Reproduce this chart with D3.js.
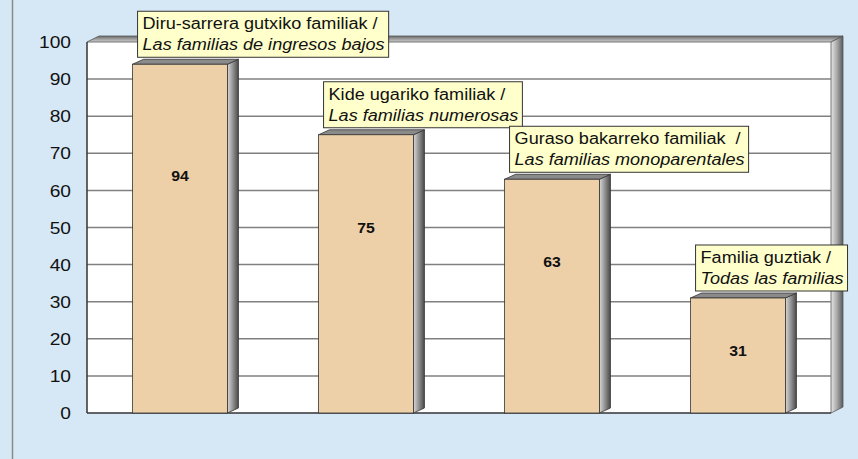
<!DOCTYPE html>
<html>
<head>
<meta charset="utf-8">
<script src="https://cdn.jsdelivr.net/npm/d3@7"></script>
<style>
  body { margin: 0; background: #d6e8f6; }
  svg { display: block; font-family: "Liberation Sans", Arial, sans-serif; }
  text { white-space: pre; }
</style>
</head>
<body>
<svg id="chart" width="858" height="459"></svg>
<script>
// chart data
const categories = ['diru', 'kide', 'guraso', 'guztiak'];
const values = [94, 75, 63, 31];
const labelsEu = ['Diru-sarrera gutxiko familiak /', 'Kide ugariko familiak /', 'Guraso bakarreko familiak  /', 'Familia guztiak /'];
const labelsEs = ['Las familias de ingresos bajos', 'Las familias numerosas', 'Las familias monoparentales', 'Todas las familias'];
const yTicks = [0, 10, 20, 30, 40, 50, 60, 70, 80, 90, 100];

const svg = d3.select('#chart');
const margin = { left: 87, right: 27, top: 42, bottom: 46 };
const W = 858, H = 459;
const depth = { x: 12, y: -6 };     // wall depth
const barDepth = { x: 11, y: -5 };  // bar depth
const stretch = 1.13;               // the original text is drawn a bit wide

const x = d3.scaleBand()
  .domain(categories)
  .range([margin.left, W - margin.right])
  .paddingInner(0.49)
  .paddingOuter(0.245);

const y = d3.scaleLinear()
  .domain([0, 100])
  .range([H - margin.bottom, margin.top]);

const defs = svg.append('defs');
const sideGrad = defs.append('linearGradient').attr('id', 'side').attr('x1', 0).attr('x2', 1);
sideGrad.append('stop').attr('offset', 0).attr('stop-color', '#d8d8d8');
sideGrad.append('stop').attr('offset', 1).attr('stop-color', '#4a4a4a');
const wallGrad = defs.append('linearGradient').attr('id', 'wall').attr('x1', 0).attr('x2', 1);
wallGrad.append('stop').attr('offset', 0).attr('stop-color', '#e6e6e6');
wallGrad.append('stop').attr('offset', 0.5).attr('stop-color', '#a8a8a8');
wallGrad.append('stop').attr('offset', 1).attr('stop-color', '#5a5a5a');
const topGrad = defs.append('linearGradient').attr('id', 'wtop').attr('x1', 0).attr('x2', 0).attr('y1', 0).attr('y2', 1);
topGrad.append('stop').attr('offset', 0).attr('stop-color', '#6a6a6a');
topGrad.append('stop').attr('offset', 1).attr('stop-color', '#d0d0d0');

// text helper: place at (tx, ty) and widen horizontally
function wide(sel, tx, ty) {
  return sel.attr('transform', d => `translate(${tx(d)},${ty(d)}) scale(${stretch},1)`);
}

// left border of the panel
svg.append('line')
  .attr('x1', 12.5).attr('x2', 12.5).attr('y1', 0).attr('y2', H)
  .attr('stroke', '#8a8a8a').attr('stroke-width', 1.5);

const x0 = margin.left, x1 = W - margin.right;
const yTop = y(100), yBot = y(0);

// plot area
svg.append('rect')
  .attr('x', x0).attr('y', yTop)
  .attr('width', x1 - x0).attr('height', yBot - yTop)
  .attr('fill', '#ffffff');

// top wall
svg.append('path')
  .attr('d', `M${x0},${yTop}L${x0 + depth.x},${yTop + depth.y}L${x1 + depth.x},${yTop + depth.y}L${x1},${yTop}Z`)
  .attr('fill', 'url(#wtop)').attr('stroke', '#555').attr('stroke-width', 0.8);

// right wall
svg.append('path')
  .attr('d', `M${x1},${yTop}L${x1 + depth.x},${yTop + depth.y}L${x1 + depth.x},${yBot + depth.y}L${x1},${yBot}Z`)
  .attr('fill', 'url(#wall)').attr('stroke', '#555').attr('stroke-width', 0.8);

// gridlines
svg.append('g')
  .selectAll('line')
  .data(yTicks.filter(d => d > 0 && d < 100))
  .join('line')
  .attr('x1', x0).attr('x2', x1)
  .attr('y1', d => y(d)).attr('y2', d => y(d))
  .attr('stroke', '#808080').attr('stroke-width', 1.5);

// axes lines
svg.append('line').attr('x1', x0).attr('x2', x0).attr('y1', yTop).attr('y2', yBot)
  .attr('stroke', '#333').attr('stroke-width', 1.5);
svg.append('line').attr('x1', x0).attr('x2', x1).attr('y1', yBot).attr('y2', yBot)
  .attr('stroke', '#333').attr('stroke-width', 1.5);

// y tick labels
svg.append('g')
  .selectAll('text')
  .data(yTicks)
  .join('text')
  .call(wide, () => 71, d => y(d))
  .attr('dy', '0.36em')
  .attr('text-anchor', 'end')
  .attr('font-size', 17)
  .attr('fill', '#111')
  .text(d => d);

// bars
const bw = x.bandwidth();
const bars = svg.append('g')
  .selectAll('g')
  .data(categories.map((c, i) => ({ c, v: values[i], i })))
  .join('g');

bars.append('path') // side
  .attr('d', d => {
    const bx = x(d.c) + bw, ty = y(d.v);
    return `M${bx},${ty}L${bx + barDepth.x},${ty + barDepth.y}L${bx + barDepth.x},${yBot + barDepth.y}L${bx},${yBot}Z`;
  })
  .attr('fill', 'url(#side)').attr('stroke', '#333').attr('stroke-width', 0.8);

bars.append('path') // top
  .attr('d', d => {
    const bx = x(d.c), ty = y(d.v);
    return `M${bx},${ty}L${bx + barDepth.x},${ty + barDepth.y}L${bx + bw + barDepth.x},${ty + barDepth.y}L${bx + bw},${ty}Z`;
  })
  .attr('fill', '#8a8a8a').attr('stroke', '#333').attr('stroke-width', 0.8);

bars.append('rect') // front
  .attr('x', d => x(d.c))
  .attr('y', d => y(d.v))
  .attr('width', bw)
  .attr('height', d => yBot - y(d.v))
  .attr('fill', '#edcfa8')
  .attr('stroke', '#333').attr('stroke-width', 0.8);

bars.append('text') // value labels
  .call(wide, d => x(d.c) + bw / 2, d => y(d.v * 0.75 - 6.5))
  .attr('dy', '0.36em')
  .attr('text-anchor', 'middle')
  .attr('font-size', 14)
  .attr('font-weight', 'bold')
  .attr('fill', '#111')
  .text(d => d.v);

// annotation boxes above bars
bars.each(function (d) {
  const g = d3.select(this);
  const bx = x(d.c) + 5;
  const bottom = y(d.v) - 7;
  const h = 46;
  const box = g.append('rect')
    .attr('y', bottom - h).attr('height', h)
    .attr('x', bx)
    .attr('fill', '#ffffcc')
    .attr('stroke', '#333').attr('stroke-width', 1);
  const t1 = g.append('text')
    .attr('transform', `translate(${bx + 5},${bottom - h + 18}) scale(${stretch},1)`)
    .attr('font-size', 16).attr('fill', '#111')
    .text(labelsEu[d.i]);
  const t2 = g.append('text')
    .attr('transform', `translate(${bx + 5},${bottom - h + 39}) scale(${stretch},1)`)
    .attr('font-size', 16).attr('font-style', 'italic').attr('fill', '#111')
    .text(labelsEs[d.i]);
  const w = Math.max(t1.node().getComputedTextLength(), t2.node().getComputedTextLength()) * stretch;
  box.attr('width', w + 9);
});
</script>
</body>
</html>
